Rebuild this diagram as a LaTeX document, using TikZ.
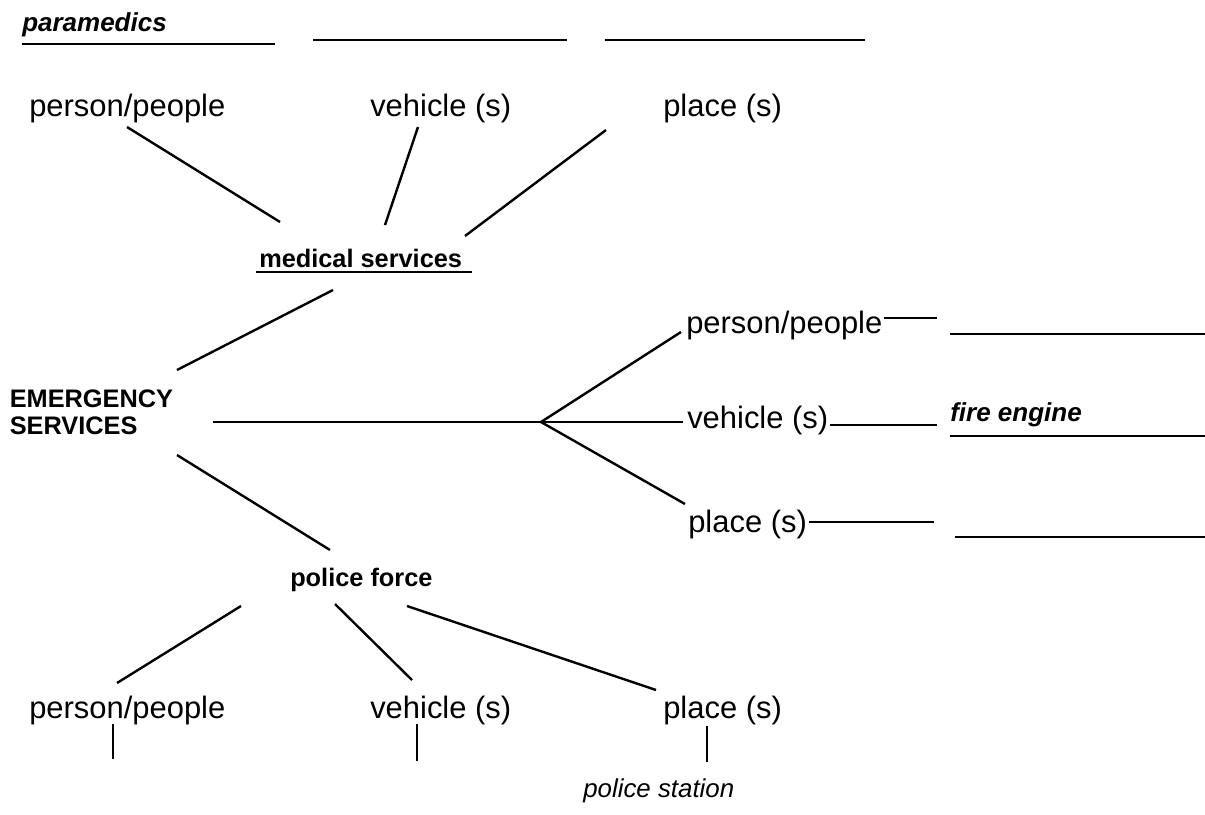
\documentclass[tikz,border=0pt]{standalone}
\usepackage{fontspec}
\setmainfont{Liberation Sans}
\begin{document}
\begin{tikzpicture}[x=0.75pt,y=-0.75pt,
  big/.style={inner sep=0pt,anchor=base west,font=\fontsize{23.2}{27}\selectfont},
  bl/.style={inner sep=0pt,anchor=base west,font=\fontsize{19}{22}\selectfont\bfseries},
  bi/.style={inner sep=0pt,anchor=base west,font=\fontsize{19.5}{22}\selectfont\bfseries\itshape},
  it/.style={inner sep=0pt,anchor=base west,font=\fontsize{19.4}{22}\selectfont\itshape},
  ln/.style={line width=1.8pt},
  ul/.style={line width=1.6pt}]
\useasboundingbox (0,0) rectangle (1205,814);

% top answer lines
\node[bi] (para) at (22,31) {paramedics};
\coordinate (t1a) at (22,44);  \coordinate (t1b) at (275,44);
\coordinate (t2a) at (313,40); \coordinate (t2b) at (567,40);
\coordinate (t3a) at (605,40); \coordinate (t3b) at (865,40);
\draw[ln] (t1a) -- (t1b);
\draw[ln] (t2a) -- (t2b);
\draw[ln] (t3a) -- (t3b);

% medical services branch
\node[big] (pp1) at (29,116) {person/people};
\node[big] (vh1) at (370,116) {vehicle (s)};
\node[big] (pl1) at (663,116) {place (s)};
\node[bl] (med) at (259,267) {medical services};
\coordinate (medul1) at (256,272); \coordinate (medul2) at (472,272);
\draw[ul] (medul1) -- (medul2);

\coordinate (a1) at (127,127); \coordinate (a2) at (280,222);
\coordinate (b1) at (418,127); \coordinate (b2) at (385,225);
\coordinate (c1) at (606,130); \coordinate (c2) at (465,236);
\draw[ln] (a1) -- (a2);
\draw[ln] (b1) -- (b2);
\draw[ln] (c1) -- (c2);

% emergency services
\node[bl] (es1) at (9.5,407) {EMERGENCY};
\node[bl] (es2) at (9.5,434) {SERVICES};
\coordinate (m1) at (333,290); \coordinate (m2) at (177,370);
\draw[ln] (m1) -- (m2);

% fire branch
\coordinate (h1) at (213,422); \coordinate (fork) at (541,422);
\coordinate (f1) at (681,332); \coordinate (f2) at (683,422); \coordinate (f3) at (685,504);
\draw[ln] (h1) -- (fork);
\draw[ln] (fork) -- (f1);
\draw[ln] (fork) -- (f2);
\draw[ln] (fork) -- (f3);
\node[big] (pp3) at (686,333) {person/people};
\node[big] (vh3) at (687,428) {vehicle (s)};
\node[big] (pl3) at (688,532) {place (s)};
\node[bi] (fire) at (950,421) {fire engine};
\coordinate (d1a) at (884,318); \coordinate (d1b) at (937,318);
\coordinate (d2a) at (830,425); \coordinate (d2b) at (937,425);
\coordinate (d3a) at (809,522); \coordinate (d3b) at (934,522);
\draw[ln] (d1a) -- (d1b);
\draw[ln] (d2a) -- (d2b);
\draw[ln] (d3a) -- (d3b);
\coordinate (e1a) at (950,334); \coordinate (e1b) at (1205,334);
\coordinate (e2a) at (950,436); \coordinate (e2b) at (1205,436);
\coordinate (e3a) at (955,537); \coordinate (e3b) at (1205,537);
\draw[ln] (e1a) -- (e1b);
\draw[ln] (e2a) -- (e2b);
\draw[ln] (e3a) -- (e3b);

% police force branch
\coordinate (p1) at (177,455); \coordinate (p2) at (330,550);
\draw[ln] (p1) -- (p2);
\node[bl] (pol) at (290,586) {police force};
\coordinate (q1) at (241,606); \coordinate (q2) at (117,683);
\coordinate (r1) at (335,604); \coordinate (r2) at (412,680);
\coordinate (s1) at (407,606); \coordinate (s2) at (656,690);
\draw[ln] (q1) -- (q2);
\draw[ln] (r1) -- (r2);
\draw[ln] (s1) -- (s2);
\node[big] (pp2) at (29,718) {person/people};
\node[big] (vh2) at (370,718) {vehicle (s)};
\node[big] (pl2) at (663,718) {place (s)};
\coordinate (v1a) at (113,724); \coordinate (v1b) at (113,759);
\coordinate (v2a) at (417,724); \coordinate (v2b) at (417,761);
\coordinate (v3a) at (707,726); \coordinate (v3b) at (707,762);
\draw[ln] (v1a) -- (v1b);
\draw[ln] (v2a) -- (v2b);
\draw[ln] (v3a) -- (v3b);
\node[it] (ps) at (583,797) {police station};
\end{tikzpicture}
\end{document}
